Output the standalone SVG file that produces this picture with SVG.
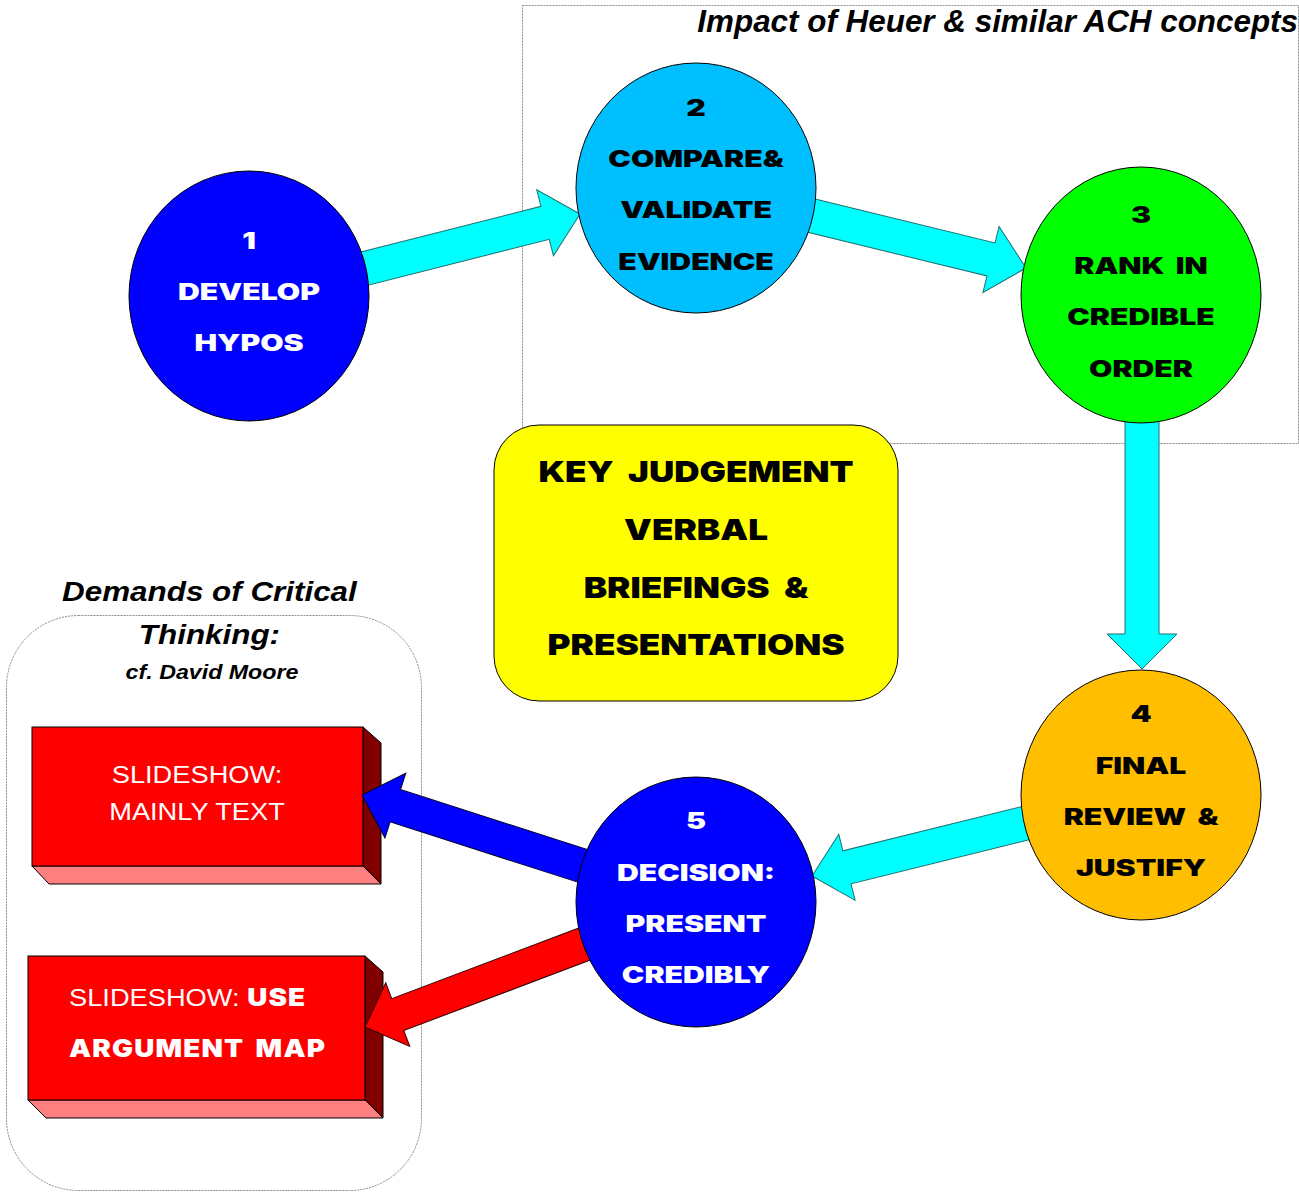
<svg xmlns="http://www.w3.org/2000/svg" width="1299" height="1192" viewBox="0 0 1299 1192">
<style>
.ct{font-family:Inter,"DejaVu Sans",sans-serif;font-weight:900;font-size:22.5px;text-anchor:middle;word-spacing:4px}
.yt{font-family:Inter,"DejaVu Sans",sans-serif;font-weight:900;font-size:29px;text-anchor:middle;fill:#000;word-spacing:6px}
.rt{font-family:"Liberation Sans",Arial,sans-serif;font-size:23.5px;fill:#fff}
.rb{font-family:Inter,"DejaVu Sans",sans-serif;font-weight:900;font-size:24px;letter-spacing:1px;word-spacing:4px}
.ti{font-family:"Liberation Sans",Arial,sans-serif;font-weight:bold;font-style:italic;fill:#000}
.node{stroke:#000;stroke-width:1}
.cyan{fill:#00FFFF;stroke:#1f6f6f;stroke-width:1}
.cont{fill:none;stroke:#8c8c8c;stroke-width:1;stroke-dasharray:2 1}
</style>
<rect width="1299" height="1192" fill="#fff"/>

<g id="ach-frame">
<rect class="cont" x="522.5" y="5.5" width="776" height="438"/>
<text class="ti" x="1298" y="32" font-size="31.4" text-anchor="end">Impact of Heuer &amp; similar ACH concepts</text>
</g>

<g id="critical-frame">
<rect class="cont" x="6.5" y="615.5" width="415" height="575" rx="72" ry="72"/>
<text class="ti" transform="translate(212,0) scale(1.15,1)" text-anchor="middle">
<tspan x="0" y="601" font-size="27.3">Demands of Critical</tspan>
<tspan x="0" y="644" font-size="27.3">Thinking:</tspan>
<tspan x="0" y="679" font-size="20.2">cf. David Moore</tspan>
</text>
</g>

<g id="box-text">
<polygon points="363,727 381,743 381,884 363,866" fill="#800000" stroke="#000" stroke-width="1"/>
<polygon points="32,866 49,884 381,884 363,866" fill="#FF8080" stroke="#000" stroke-width="1"/>
<rect x="32" y="727" width="331" height="139" fill="#FF0000" stroke="#000" stroke-width="1"/>
<text class="rt" text-anchor="middle" transform="translate(197,0) scale(1.16,1)"><tspan x="0" y="783">SLIDESHOW:</tspan><tspan x="0" y="820">MAINLY TEXT</tspan></text>
</g>

<g id="box-map">
<polygon points="365,956 383,972 383,1118 365,1100" fill="#800000" stroke="#000" stroke-width="1"/>
<polygon points="28,1100 46,1118 383,1118 365,1100" fill="#FF8080" stroke="#000" stroke-width="1"/>
<rect x="28" y="956" width="337" height="144" fill="#FF0000" stroke="#000" stroke-width="1"/>
<text class="rt" text-anchor="start" transform="translate(69,0) scale(1.16,1)"><tspan x="0" y="1006">SLIDESHOW: <tspan class="rb">USE</tspan></tspan><tspan class="rb" x="0" y="1057">ARGUMENT MAP</tspan></text>
</g>

<g id="connectors">
<g transform="translate(580,214) rotate(-14.2)"><polygon class="cyan" points="-235,-17 -36,-17 -36,-34 0,0 -36,34 -36,17 -235,17"/></g>
<g transform="translate(1026,268) rotate(13.7)"><polygon class="cyan" points="-235,-17 -36,-17 -36,-34 0,0 -36,34 -36,17 -235,17"/></g>
<g transform="translate(1142,669) rotate(90)"><polygon class="cyan" points="-269,-17 -35,-17 -35,-35 0,0 -35,35 -35,17 -269,17"/></g>
<g transform="translate(812,876) rotate(166.1)"><polygon class="cyan" points="-235,-17 -36,-17 -36,-34 0,0 -36,34 -36,17 -235,17"/></g>
<g transform="translate(362,795) rotate(197.8)"><polygon points="-250,-17 -35,-17 -35,-34 0,0 -35,34 -35,17 -250,17" fill="#0000FF" stroke="#000030" stroke-width="1"/></g>
<g transform="translate(365,1027) rotate(159.3)"><polygon points="-250,-17 -35,-17 -35,-34 0,0 -35,34 -35,17 -250,17" fill="#FF0000" stroke="#300000" stroke-width="1"/></g>
</g>

<g id="node1">
<ellipse class="node" cx="249" cy="296" rx="120" ry="125" fill="#0000FF"/>
<text class="ct" fill="#fff" transform="translate(249,0) scale(1.34,1)"><tspan x="0" y="249">1</tspan><tspan x="0" y="300">DEVELOP</tspan><tspan x="0" y="351">HYPOS</tspan></text>
</g>

<g id="node2">
<ellipse class="node" cx="696" cy="188" rx="120" ry="125" fill="#00BFFF"/>
<text class="ct" fill="#000" transform="translate(696,0) scale(1.34,1)"><tspan x="0" y="116">2</tspan><tspan x="0" y="167">COMPARE&amp;</tspan><tspan x="0" y="218">VALIDATE</tspan><tspan x="0" y="270">EVIDENCE</tspan></text>
</g>

<g id="node3">
<ellipse class="node" cx="1141" cy="295" rx="120" ry="128" fill="#00FF00"/>
<text class="ct" fill="#000" transform="translate(1141,0) scale(1.34,1)"><tspan x="0" y="223">3</tspan><tspan x="0" y="274">RANK IN</tspan><tspan x="0" y="325">CREDIBLE</tspan><tspan x="0" y="377">ORDER</tspan></text>
</g>

<g id="node4">
<ellipse class="node" cx="1141" cy="795" rx="120" ry="125" fill="#FFBF00"/>
<text class="ct" fill="#000" transform="translate(1141,0) scale(1.34,1)"><tspan x="0" y="722">4</tspan><tspan x="0" y="774">FINAL</tspan><tspan x="0" y="825">REVIEW &amp;</tspan><tspan x="0" y="876">JUSTIFY</tspan></text>
</g>

<g id="node5">
<ellipse class="node" cx="696" cy="902" rx="120" ry="125" fill="#0000FF"/>
<text class="ct" fill="#fff" transform="translate(696,0) scale(1.34,1)"><tspan x="0" y="829">5</tspan><tspan x="0" y="881">DECISION:</tspan><tspan x="0" y="932">PRESENT</tspan><tspan x="0" y="983">CREDIBLY</tspan></text>
</g>

<g id="key-judgement">
<rect class="node" x="494" y="425" width="404" height="276" rx="45" ry="45" fill="#FFFF00"/>
<text class="yt" transform="translate(696,0) scale(1.21,1)"><tspan x="0" y="482">KEY JUDGEMENT</tspan><tspan x="0" y="540">VERBAL</tspan><tspan x="0" y="598">BRIEFINGS &amp;</tspan><tspan x="0" y="655">PRESENTATIONS</tspan></text>
</g>
</svg>
